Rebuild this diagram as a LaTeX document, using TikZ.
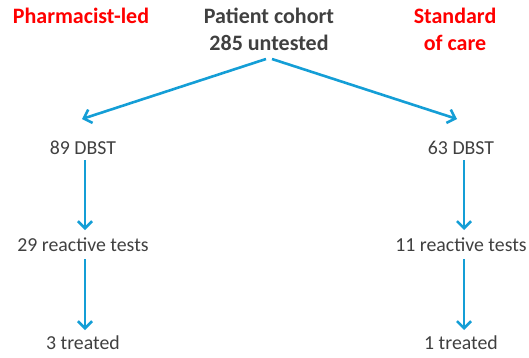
\documentclass[tikz,border=0pt]{standalone}
\usepackage{fontspec}
\setmainfont{Carlito}
\usetikzlibrary{arrows.meta}
\definecolor{txtgray}{RGB}{64,64,64}
\definecolor{hdrred}{RGB}{255,0,0}
\definecolor{arrblue}{RGB}{20,158,214}
\begin{document}
\begin{tikzpicture}[x=1pt,y=1pt,
  lbl/.style={text=txtgray,font=\fontsize{19.8}{24}\selectfont,inner sep=0pt,anchor=center},
  hdr/.style={font=\bfseries\fontsize{22}{27}\selectfont,inner sep=0pt,align=center,anchor=center},
  flow/.style={draw=arrblue,line width=2.6pt,-{Straight Barb[length=7pt,width=14pt,line width=2.6pt]}}]
\useasboundingbox (0,0) rectangle (529,357);
\node[hdr,text=hdrred] (ph) at (81,341) {Pharmacist-led};
\node[hdr,text=txtgray] (pc) at (269,327.5) {Patient cohort\\285 untested};
\node[hdr,text=hdrred] (sc) at (455,327.5) {Standard\\of care};
\coordinate (s1) at (266,298);
\coordinate (s2) at (272,298);
\node[lbl] (l1) at (83,209) {89 DBST};
\node[lbl] (l2) at (83,112) {29 reactive tests};
\node[lbl] (l3) at (83,14) {3 treated};
\node[lbl] (r1) at (461,209) {63 DBST};
\node[lbl] (r2) at (461,112) {11 reactive tests};
\node[lbl] (r3) at (461,14) {1 treated};
\coordinate (a1) at (82,238);
\coordinate (b1) at (457,238);
\draw[flow] (s1) -- (a1);
\draw[flow] (s2) -- (b1);
\draw[flow] (85,197) -- (85,127);
\draw[flow] (85,98) -- (85,27);
\draw[flow] (464,197) -- (464,127);
\draw[flow] (464,98) -- (464,27);
\end{tikzpicture}
\end{document}
